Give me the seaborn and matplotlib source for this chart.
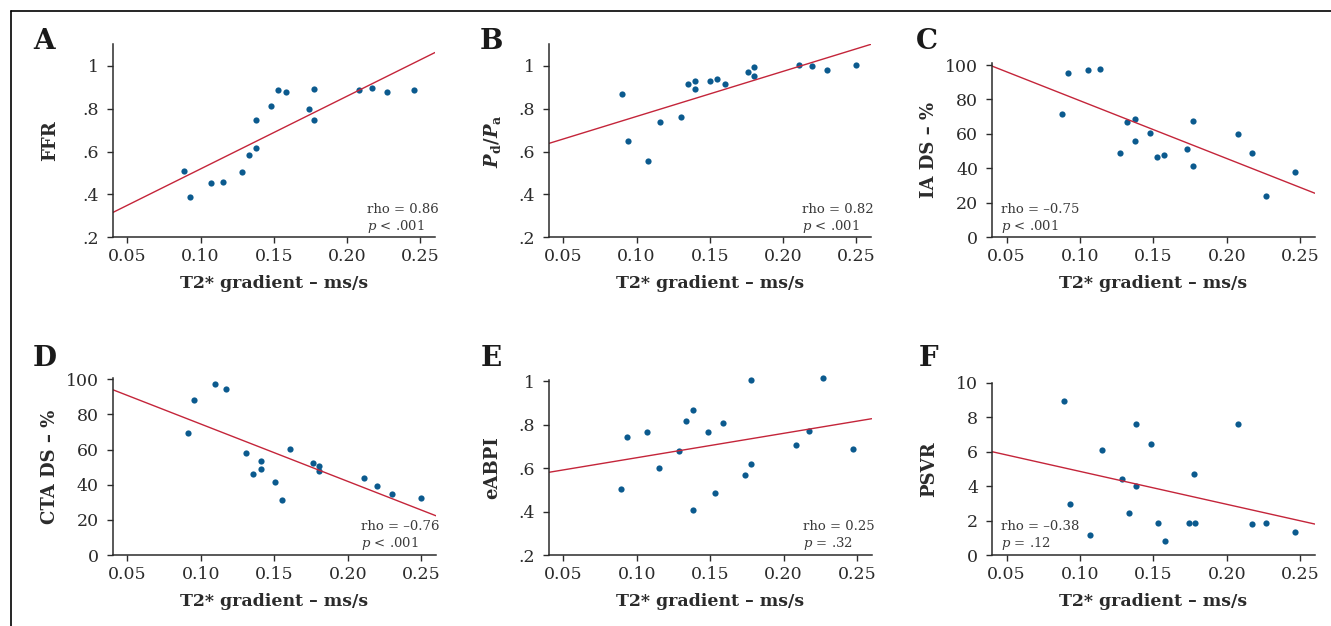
import numpy as np
import pandas as pd
import seaborn as sns
import matplotlib.pyplot as plt
from matplotlib.lines import Line2D

# values (T2* gradient in ms/s)
t2_a = [0.089, 0.093, 0.107, 0.115, 0.128, 0.133, 0.138, 0.138, 0.148,
        0.153, 0.158, 0.174, 0.1775, 0.1775, 0.208, 0.217, 0.227, 0.246]
ffr = [0.51, 0.39, 0.453, 0.456, 0.505, 0.584, 0.617, 0.747, 0.814,
       0.886, 0.878, 0.797, 0.891, 0.747, 0.886, 0.897, 0.878, 0.889]

t2_b = [0.090, 0.094, 0.108, 0.116, 0.130, 0.135, 0.140, 0.140, 0.150,
        0.155, 0.160, 0.176, 0.180, 0.180, 0.211, 0.2195, 0.230, 0.250]
pd_pa = [0.867, 0.648, 0.556, 0.737, 0.762, 0.913, 0.930, 0.890, 0.927,
         0.940, 0.913, 0.970, 0.995, 0.952, 1.002, 0.998, 0.981, 1.003]

t2_c = [0.088, 0.092, 0.1055, 0.1134, 0.1275, 0.132, 0.1375, 0.1373, 0.1473,
        0.1525, 0.157, 0.173, 0.1768, 0.1768, 0.2075, 0.2168, 0.2264, 0.2464]
ia_ds = [71.4, 95.4, 97.1, 97.5, 48.9, 66.7, 68.5, 55.9, 60.3,
         46.6, 47.6, 51.3, 67.5, 41.6, 59.8, 48.7, 23.8, 37.7]

t2_d = [0.0914, 0.0952, 0.1093, 0.1173, 0.1307, 0.1357, 0.1409, 0.1409, 0.1505,
        0.1555, 0.1607, 0.1764, 0.1802, 0.1802, 0.2109, 0.2198, 0.2298, 0.2495]
cta_ds = [69.6, 88.0, 97.0, 94.3, 57.9, 46.3, 53.5, 48.8, 41.7,
          31.1, 60.3, 52.4, 50.9, 47.7, 44.0, 39.1, 34.9, 32.4]

t2_e = [0.0895, 0.0934, 0.107, 0.115, 0.1286, 0.1336, 0.1386, 0.1386, 0.1486,
        0.153, 0.1586, 0.1739, 0.1777, 0.1777, 0.2082, 0.217, 0.227, 0.247]
eabpi = [0.504, 0.744, 0.768, 0.598, 0.678, 0.816, 0.866, 0.407, 0.768,
         0.487, 0.808, 0.569, 1.006, 0.619, 0.705, 0.770, 1.014, 0.687]

t2_f = [0.0893, 0.0932, 0.1068, 0.1148, 0.1286, 0.1336, 0.1382, 0.1384, 0.148,
        0.1532, 0.1577, 0.1739, 0.1777, 0.178, 0.2077, 0.2168, 0.2266, 0.2466]
psvr = [8.92, 2.94, 1.18, 6.07, 4.43, 2.46, 7.58, 3.98, 6.42,
        1.86, 0.79, 1.86, 4.72, 1.86, 7.58, 1.80, 1.86, 1.33]

x_ticks = [0.05, 0.10, 0.15, 0.20, 0.25]
x_tick_labels = ['0.05', '0.10', '0.15', '0.20', '0.25']
frac_ticks = [0.2, 0.4, 0.6, 0.8, 1.0]
frac_tick_labels = ['.2', '.4', '.6', '.8', '1']
pct_ticks = [0, 20, 40, 60, 80, 100]
psvr_ticks = [0, 2, 4, 6, 8, 10]

stats = {
    'A': ('rho = 0.86', '$p$ < .001'),
    'B': ('rho = 0.82', '$p$ < .001'),
    'C': ('rho = \u20130.75', '$p$ < .001'),
    'D': ('rho = \u20130.76', '$p$ < .001'),
    'E': ('rho = 0.25', '$p$ = .32'),
    'F': ('rho = \u20130.38', '$p$ = .12'),
}

sns.set_theme(style='ticks')
plt.rcParams['font.family'] = ['DejaVu Serif']
plt.rcParams['mathtext.fontset'] = 'dejavuserif'

DOT = '#0b5a8e'
LINE = '#c4253a'
INK = '#2b2b2b'

W, H = 1331, 626
fig = plt.figure(figsize=(W / 100, H / 100), dpi=100)


def px_axes(left, top, right, bottom):
    return fig.add_axes([left / W, 1 - bottom / H, (right - left) / W, (bottom - top) / H])


panels = [
    # letter, x, y, ylabel, ylim, yticks, yticklabels, axes box px, stats x frac,
    # ylabel offset px, letter pos px
    ('A', t2_a, ffr, 'FFR', (0.2, 1.1), frac_ticks, frac_tick_labels,
     (112.7, 44.3, 435, 237.3), 0.789, 54, (33, 28)),
    ('B', t2_b, pd_pa, r'$\mathbfit{P}_{\mathbf{d}}\mathbf{/}\mathbfit{P}_{\mathbf{a}}$',
     (0.2, 1.1), frac_ticks, frac_tick_labels,
     (548.7, 44.3, 871, 237.3), 0.785, 46, (480, 28)),
    ('C', t2_c, ia_ds, 'IA DS \u2013 %', (0, 101), pct_ticks, [str(v) for v in pct_ticks],
     (992, 63.3, 1315, 237.3), 0.027, 54, (916, 28)),
    ('D', t2_d, cta_ds, 'CTA DS \u2013 %', (0, 100.5), pct_ticks, [str(v) for v in pct_ticks],
     (112.7, 378.3, 436, 555), 0.768, 54, (33, 345)),
    ('E', t2_e, eabpi, 'eABPI', (0.2, 1.005), frac_ticks, frac_tick_labels,
     (548.7, 380, 871.7, 555), 0.788, 47, (481, 345)),
    ('F', t2_f, psvr, 'PSVR', (0, 10), psvr_ticks, [str(v) for v in psvr_ticks],
     (992, 382.7, 1315, 555), 0.027, 54, (919, 345)),
]

for letter, xs, ys, ylab, ylim, yt, ytl, box, sx, ylab_off, lpos in panels:
    ax = px_axes(*box)
    ax.set_xlim(0.04, 0.26)
    ax.set_ylim(*ylim)
    df = pd.DataFrame({'x': xs, 'y': ys})
    sns.regplot(data=df, x='x', y='y', ax=ax, ci=None, truncate=False,
                scatter_kws={'s': 20, 'color': DOT, 'alpha': 1, 'linewidths': 0,
                             'clip_on': False},
                line_kws={'color': LINE, 'lw': 1.0})
    ax.set_xlim(0.04, 0.26)
    ax.set_ylim(*ylim)
    ax.set_xticks(x_ticks)
    ax.set_xticklabels(x_tick_labels)
    ax.set_yticks(yt)
    ax.set_yticklabels(ytl)
    sns.despine(ax=ax)
    for s in ('left', 'bottom'):
        ax.spines[s].set_color(INK)
        ax.spines[s].set_linewidth(1.1)
    ax.tick_params(axis='both', length=4, width=1.0, color=INK, labelcolor=INK,
                   labelsize=12.5, pad=4)
    ax.tick_params(axis='y', pad=6)

    h_px = box[3] - box[1]
    w_px = box[2] - box[0]
    ax.set_xlabel('T2* gradient \u2013 ms/s', fontsize=12.5, fontweight='bold', color=INK)
    ax.xaxis.set_label_coords(0.5, -38 / h_px)
    ax.set_ylabel(ylab, fontsize=13, fontweight='bold', color=INK)
    ax.yaxis.set_label_coords(-ylab_off / w_px, 0.5)

    # correlation note, two lines near the bottom of the axes
    rho_txt, p_txt = stats[letter]
    ax.text(sx, 28 / h_px, rho_txt, transform=ax.transAxes,
            fontsize=9.5, color='#3a3a3a', va='center', ha='left')
    ax.text(sx, 11 / h_px, p_txt, transform=ax.transAxes,
            fontsize=9.5, color='#3a3a3a', va='center', ha='left')

    fig.text(lpos[0] / W, 1 - lpos[1] / H, letter, fontsize=20, fontweight='bold',
             color='#1a1a1a', va='top', ha='left')

# partial frame around the figure
fig.add_artist(Line2D([11 / W, 1], [1 - 11 / H, 1 - 11 / H], color='black', lw=1.2))
fig.add_artist(Line2D([11 / W, 11 / W], [0, 1 - 11 / H], color='black', lw=1.2))

fig.savefig('out.png', dpi=100, facecolor='white')
